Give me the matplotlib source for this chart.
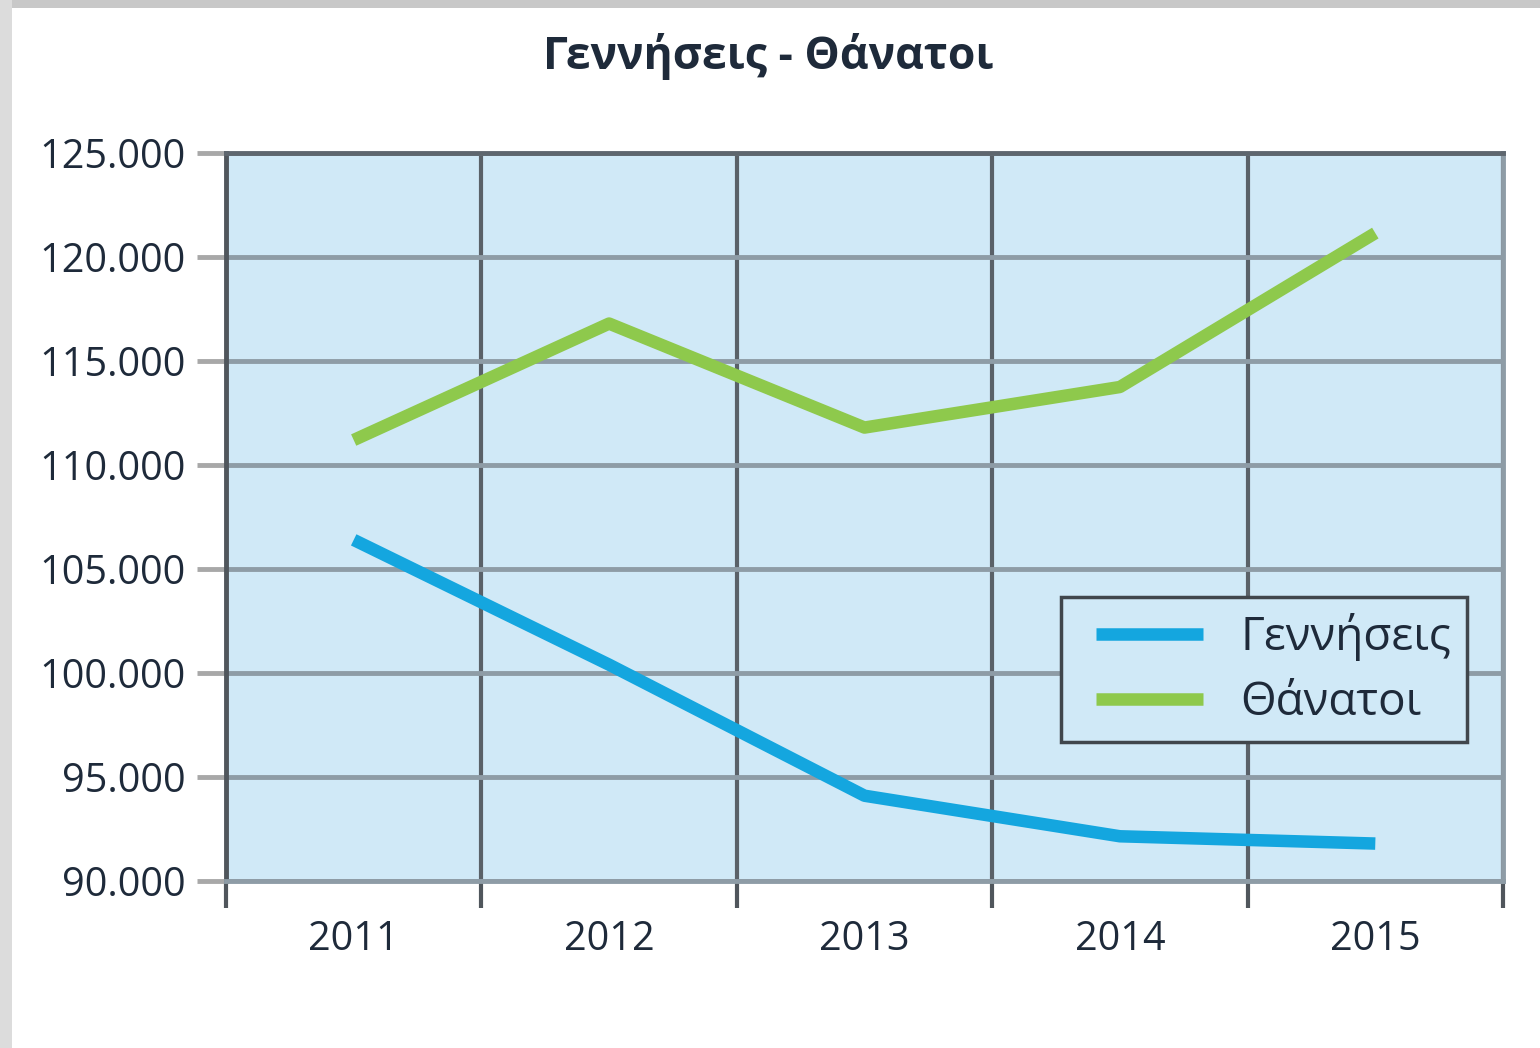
import matplotlib
matplotlib.use("Agg")
import matplotlib.pyplot as plt
from matplotlib.patches import Rectangle
from matplotlib.ticker import FuncFormatter, FixedLocator
from matplotlib.legend_handler import HandlerLine2D
from matplotlib.lines import Line2D

years = ["2011", "2012", "2013", "2014", "2015"]
births = [106400, 100400, 94100, 92150, 91800]
deaths = [111200, 116800, 111800, 113750, 121150]
title = "Γεννήσεις - Θάνατοι"
label_births = "Γεννήσεις"
label_deaths = "Θάνατοι"

plt.rcParams['font.family'] = ['Open Sans', 'DejaVu Sans']

fig = plt.figure(figsize=(15.4, 10.48), dpi=100)
fig.patch.set_facecolor("white")
# grey frame strips
fig.patches.append(Rectangle((0, 1 - 8 / 1048), 1, 8 / 1048, transform=fig.transFigure,
                             facecolor="#c8c8c8", edgecolor="none", zorder=0))
fig.patches.append(Rectangle((0, 0), 12 / 1540, 1, transform=fig.transFigure,
                             facecolor="#dcdcdc", edgecolor="none", zorder=0))

ax = fig.add_axes([226 / 1540, 1 - 881 / 1048, (1503 - 226) / 1540, (881 - 153) / 1048])
ax.set_facecolor("#d0e9f7")

x = list(range(1, len(years) + 1))
ax.plot(x, births, color="#14a6df", lw=9, solid_capstyle="butt", label=label_births, zorder=3)
ax.plot(x, deaths, color="#8ec94c", lw=9, solid_capstyle="butt", label=label_deaths, zorder=3)

ax.set_xlim(0.5, len(years) + 0.5)
ax.set_ylim(90000, 125000)
ax.set_yticks(range(90000, 125001, 5000))
ax.yaxis.set_major_formatter(FuncFormatter(lambda v, p: f"{int(v):,}".replace(",", ".")))

# x: boundaries as major ticks (no label), centres as minor ticks (labels)
ax.xaxis.set_major_locator(FixedLocator([i + 0.5 for i in range(0, len(years) + 1)]))
ax.xaxis.set_minor_locator(FixedLocator(x))
ax.set_xticklabels([], minor=False)
ax.set_xticklabels(years, minor=True)
ax.tick_params(axis="x", which="major", length=19.5, width=3, color="#50565c", direction="out")
ax.tick_params(axis="x", which="minor", length=0, pad=28, labelsize=28.5, labelcolor="#1e2a3a")
ax.tick_params(axis="y", which="major", length=21, width=3.5, color="#a8a8a8", pad=8,
               labelsize=28.5, labelcolor="#1e2a3a")

ax.grid(axis="y", color="#8e9ca6", lw=3.5, zorder=1)
ax.grid(axis="x", which="major", color="#5a6168", lw=3, zorder=1)
ax.set_axisbelow(True)

for side, col in [("left", "#50565c"), ("top", "#5e666e"), ("bottom", "#8e9ca6"), ("right", "#8e9ca6")]:
    ax.spines[side].set_color(col)
    ax.spines[side].set_linewidth(3.5)

fig.text(768 / 1540, 1 - 57 / 1048, title, ha="center", va="center", fontsize=32,
         fontweight="bold", color="#1e2a3a")

leg = ax.legend(loc="lower right", bbox_to_anchor=((1467 - 226) / (1503 - 226), (881 - 742) / (881 - 153)),
                fontsize=33, frameon=True, fancybox=False, handlelength=2.75, handletextpad=0.8,
                borderpad=0.35, labelspacing=0.42, borderaxespad=0,
                handler_map={Line2D: HandlerLine2D(xpad=0.41)})
leg.get_frame().set_edgecolor("#40464c")
leg.get_frame().set_linewidth(2.5)
leg.get_frame().set_facecolor("#d0e9f7")
leg.get_frame().set_alpha(1)
for t in leg.get_texts():
    t.set_color("#1e2a3a")

fig.savefig("out.png", dpi=100)
